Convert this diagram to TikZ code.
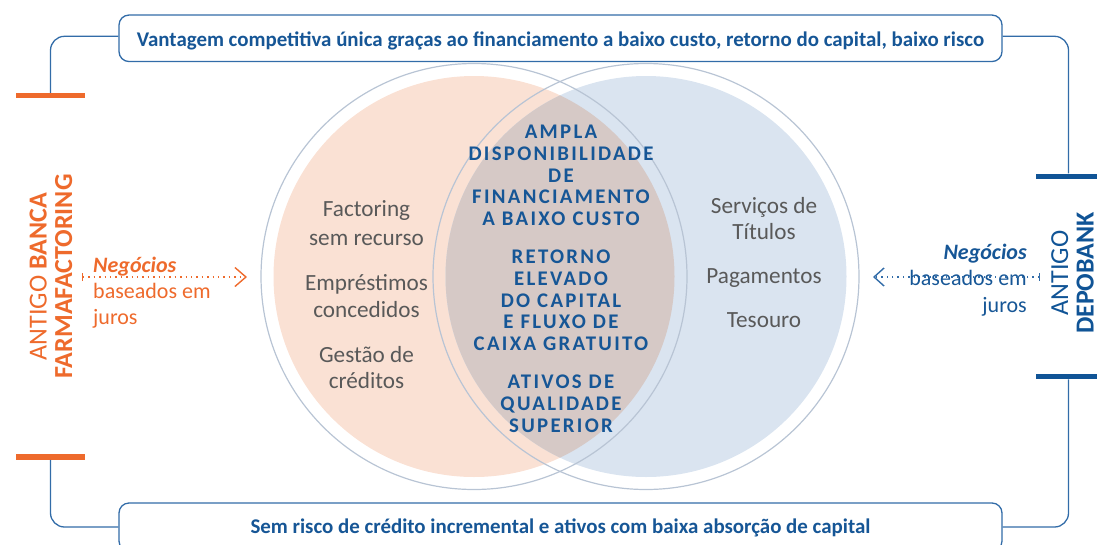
\documentclass[tikz,border=0pt]{standalone}
\usepackage{fontspec}
\setmainfont{Carlito}
\newfontfamily\spacedfont[LetterSpace=11]{Carlito}
\usetikzlibrary{arrows.meta}
\definecolor{tblue}{RGB}{22,86,150}
\definecolor{lineblue}{RGB}{50,108,168}
\definecolor{barblue}{RGB}{16,84,150}
\definecolor{orng}{RGB}{238,106,44}
\definecolor{gtext}{RGB}{89,89,89}
\definecolor{peach}{RGB}{250,225,212}
\definecolor{lblue}{RGB}{218,228,240}
\definecolor{lens}{RGB}{214,201,198}
\definecolor{ringc}{RGB}{184,196,212}
\begin{document}
\begin{tikzpicture}[x=1pt,y=-1pt,
  box/.style={draw=lineblue,line width=1.3pt,rounded corners=10pt,fill=white,
    minimum width=883pt,inner sep=0pt,text height=15.4pt,text depth=0pt,
    font=\fontsize{20.9}{24}\selectfont\bfseries,text=tblue},
  conn/.style={draw=lineblue,line width=1.3pt,rounded corners=14pt},
  obar/.style={fill=orng,inner sep=0pt,minimum width=69pt,minimum height=5.5pt},
  bbar/.style={fill=barblue,inner sep=0pt,minimum width=65pt,minimum height=5.5pt},
  ring/.style={draw=ringc,line width=1.2pt},
  ctr/.style={inner sep=0pt,anchor=base,text=tblue,font=\fontsize{20.8}{22}\spacedfont\bfseries},
  gry/.style={inner sep=0pt,anchor=base,text=gtext,font=\fontsize{23.2}{27}\selectfont},
  side/.style={inner sep=0pt,font=\fontsize{22}{26}\selectfont},
  vert/.style={inner sep=0pt,rotate=90,align=center,font=\fontsize{26}{25.5}\selectfont},
  oarrow/.style={draw=orng,line width=1.2pt,dash pattern=on 1.4pt off 4pt,
    {Bar[width=8pt,line width=1.2pt]}-{Straight Barb[length=11pt,width=19pt,line width=1.4pt]}},
  barrow/.style={draw=lineblue,line width=1.2pt,dash pattern=on 1.4pt off 4pt,
    {Bar[width=8pt,line width=1.2pt]}-{Straight Barb[length=10pt,width=18pt,line width=1.4pt]}}
]
\useasboundingbox (0,0) rectangle (1097,544);

% circles
\coordinate (LC) at (474,276.5);
\coordinate (RC) at (646,276.5);
\fill[peach] (LC) circle (200.5);
\fill[lblue] (RC) circle (200.5);
\begin{scope}
  \clip (LC) circle (200.5);
  \fill[lens] (RC) circle (200.5);
\end{scope}
\draw[ring] (LC) circle (213);
\draw[ring] (RC) circle (213);

% boxes
\node[box,minimum height=46.5pt] (topbox) at (560.5,38.3)
  {Vantagem competitiva única graças ao financiamento a baixo custo, retorno do capital, baixo risco};
\node[box,minimum height=48pt,text height=12pt] (botbox) at (560.5,527)
  {Sem risco de crédito incremental e ativos com baixa absorção de capital};

% bars
\node[obar] (barTL) at (50.5,95.7) {};
\node[obar] (barBL) at (50.5,457) {};
\node[bbar] (barTR) at (1068.5,176.3) {};
\node[bbar] (barBR) at (1068.5,376.5) {};

% connectors
\draw[conn] ([yshift=2pt]topbox.west) -| (barTL.north);
\draw[conn] ([yshift=2pt]topbox.east) -| (barTR.north);
\draw[conn] (botbox.west) -| (barBL.south);
\draw[conn] (botbox.east) -| (barBR.south);

% vertical labels
\node[vert,text=orng] (leftlbl) at (51,276.5) {ANTIGO \textbf{BANCA}\\\textbf{FARMAFACTORING}};
\node[vert,text=barblue] (rightlbl) at (1072.5,273) {ANTIGO\\\textbf{DEPOBANK}};

% side texts
\node[side,anchor=base west,text=orng] (ln1) at (93,272) {\textbf{\itshape Negócios}};
\node[side,anchor=base west,text=orng] (ln2) at (93,298) {baseados em};
\node[side,anchor=base west,text=orng] (ln3) at (93,324) {juros};
\node[side,anchor=base east,text=tblue] (rn1) at (1027,259) {\textbf{\itshape Negócios}};
\node[side,anchor=base east,text=tblue] (rn2) at (1027,285.5) {baseados em};
\node[side,anchor=base east,text=tblue] (rn3) at (1027,312) {juros};

\coordinate (la0) at (82,277);
\coordinate (la1) at (247,277);
\draw[oarrow] (la0) -- (la1);
\coordinate (ra0) at (1040,277);
\coordinate (ra1) at (873,277);
\draw[barrow] (ra0) -- (ra1);

% left circle text
\foreach \t/\y [count=\i] in {Factoring/216,sem recurso/245,Empréstimos/290,concedidos/317,Gestão de/362,créditos/388}
  \node[gry] (l\i) at (366.5,\y) {\t};
% right circle text
\foreach \t/\y [count=\i] in {Serviços de/213,Títulos/239,Pagamentos/283,Tesouro/327}
  \node[gry] (r\i) at (764,\y) {\t};
% center text
\foreach \t/\y [count=\i] in {AMPLA/138,DISPONIBILIDADE/160,DE/182,FINANCIAMENTO/203.5,A BAIXO CUSTO/225,RETORNO/263,ELEVADO/285,DO CAPITAL/307,E FLUXO DE/328.5,CAIXA GRATUITO/350,ATIVOS DE/388,QUALIDADE/410,SUPERIOR/432}
  \node[ctr] (c\i) at (561,\y) {\t};
\end{tikzpicture}
\end{document}
